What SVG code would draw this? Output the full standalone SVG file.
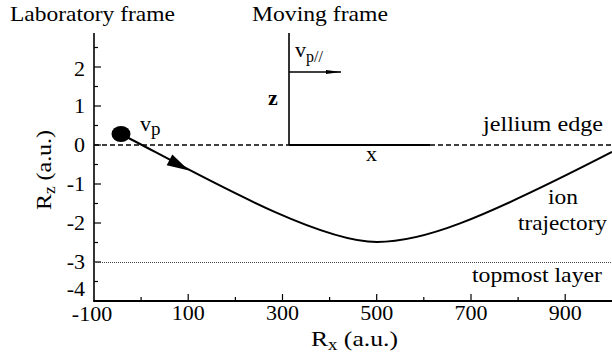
<svg xmlns="http://www.w3.org/2000/svg" width="612" height="358" viewBox="0 0 612 358" font-family="'Liberation Serif', 'Times New Roman', serif">
<style>
text{font-family:'Liberation Serif','Times New Roman',serif;font-size:22px;fill:#000}
.sub{font-size:16px}
.ax{stroke:#000;stroke-width:1.6;fill:none}
.tk{stroke:#000;stroke-width:1.2}
.dash{stroke:#000;stroke-width:1.3;stroke-dasharray:5 3;fill:none}
.dot{stroke:#444;stroke-width:1;stroke-dasharray:1 1;fill:none}
.traj{stroke:#000;stroke-width:2;fill:none}
.ylab{text-anchor:end}
.xlab{text-anchor:middle}
</style>
<defs>
<marker id="ah" markerWidth="16" markerHeight="6" refX="15" refY="3" orient="auto" markerUnits="userSpaceOnUse">
<path d="M0,1 L15,3 L0,5 Z" fill="#000"/>
</marker>
</defs>

<g id="titles">
<text x="10" y="21" textLength="165" lengthAdjust="spacingAndGlyphs">Laboratory frame</text>
<text x="252" y="21" textLength="136" lengthAdjust="spacingAndGlyphs">Moving frame</text>
</g>

<g id="axes">
<line class="ax" x1="94" y1="33" x2="94" y2="301"/>
<line class="ax" x1="93.2" y1="301" x2="612" y2="301" style="stroke-width:2"/>
<g class="tk">
<line x1="94" y1="47.5" x2="98" y2="47.5"/>
<line x1="94" y1="67" x2="101" y2="67"/>
<line x1="94" y1="86.5" x2="98" y2="86.5"/>
<line x1="94" y1="106" x2="101" y2="106"/>
<line x1="94" y1="125.5" x2="98" y2="125.5"/>
<line x1="94" y1="145" x2="101" y2="145"/>
<line x1="94" y1="164.5" x2="98" y2="164.5"/>
<line x1="94" y1="184" x2="101" y2="184"/>
<line x1="94" y1="203.5" x2="98" y2="203.5"/>
<line x1="94" y1="223" x2="101" y2="223"/>
<line x1="94" y1="242.5" x2="98" y2="242.5"/>
<line x1="94" y1="262" x2="101" y2="262"/>
<line x1="94" y1="281.5" x2="98" y2="281.5"/>
<line x1="141.1" y1="301" x2="141.1" y2="297"/>
<line x1="188.2" y1="301" x2="188.2" y2="294"/>
<line x1="235.4" y1="301" x2="235.4" y2="297"/>
<line x1="282.5" y1="301" x2="282.5" y2="294"/>
<line x1="329.6" y1="301" x2="329.6" y2="297"/>
<line x1="376.7" y1="301" x2="376.7" y2="294"/>
<line x1="423.8" y1="301" x2="423.8" y2="297"/>
<line x1="471" y1="301" x2="471" y2="294"/>
<line x1="518.1" y1="301" x2="518.1" y2="297"/>
<line x1="565.2" y1="301" x2="565.2" y2="294"/>
</g>
<g id="ytick-labels">
<text class="ylab" x="85" y="76">2</text>
<text class="ylab" x="85" y="113">1</text>
<text class="ylab" x="85" y="152">0</text>
<text class="ylab" x="85" y="191">-1</text>
<text class="ylab" x="85" y="230">-2</text>
<text class="ylab" x="85" y="269">-3</text>
<text class="ylab" x="85" y="296">-4</text>
</g>
<g id="xtick-labels">
<text class="xlab" x="92" y="321">-100</text>
<text class="xlab" x="188.2" y="320">100</text>
<text class="xlab" x="282.5" y="320">300</text>
<text class="xlab" x="376.7" y="320">500</text>
<text class="xlab" x="471" y="320">700</text>
<text class="xlab" x="565.2" y="320">900</text>
</g>
<text id="xaxis-title" x="311" y="346" textLength="87" lengthAdjust="spacingAndGlyphs">R<tspan class="sub" dy="4">x</tspan><tspan dy="-4">  (a.u.)</tspan></text>
<text id="yaxis-title" transform="translate(51,210) rotate(-90)" textLength="80" lengthAdjust="spacingAndGlyphs">R<tspan class="sub" dy="4">z</tspan><tspan dy="-4"> (a.u.)</tspan></text>
</g>

<g id="surfaces">
<line class="dash" x1="94" y1="145" x2="289" y2="145"/>
<line class="dash" x1="430" y1="145" x2="612" y2="145"/>
<line class="dot" x1="94" y1="262.5" x2="612" y2="262.5"/>
<text x="483" y="131" textLength="120" lengthAdjust="spacingAndGlyphs">jellium edge</text>
<text x="472" y="282" textLength="130" lengthAdjust="spacingAndGlyphs">topmost layer</text>
</g>

<g id="moving-frame">
<line class="ax" x1="289" y1="33" x2="289" y2="145"/>
<line class="ax" x1="289" y1="145" x2="430" y2="145" style="stroke-width:2"/>
<text x="273" y="105" text-anchor="middle" font-weight="bold">z</text>
<text x="371.5" y="161" text-anchor="middle">x</text>
<text x="295" y="57">v<tspan class="sub" dy="5">p//</tspan></text>
</g>

<g id="connectors">
<path class="traj" d="M121,134 C201,175.6 317,242 377,242 C422,242 475,222.5 612,152"/>
<path d="M189,170.5 L166.7,165.2 L172.3,154.6 Z" fill="#000"/>
<line x1="289" y1="72" x2="341" y2="72" stroke="#000" stroke-width="1.3" marker-end="url(#ah)"/>
</g>

<g id="ion">
<ellipse cx="121" cy="134" rx="9.5" ry="8" fill="#000"/>
<text x="140" y="131">v<tspan class="sub" dy="4" style="font-size:19px">p</tspan></text>
</g>

<g id="trajectory-label">
<text x="563" y="204" text-anchor="middle" textLength="30" lengthAdjust="spacingAndGlyphs">ion</text>
<text x="518" y="230" textLength="89" lengthAdjust="spacingAndGlyphs">trajectory</text>
</g>
</svg>
